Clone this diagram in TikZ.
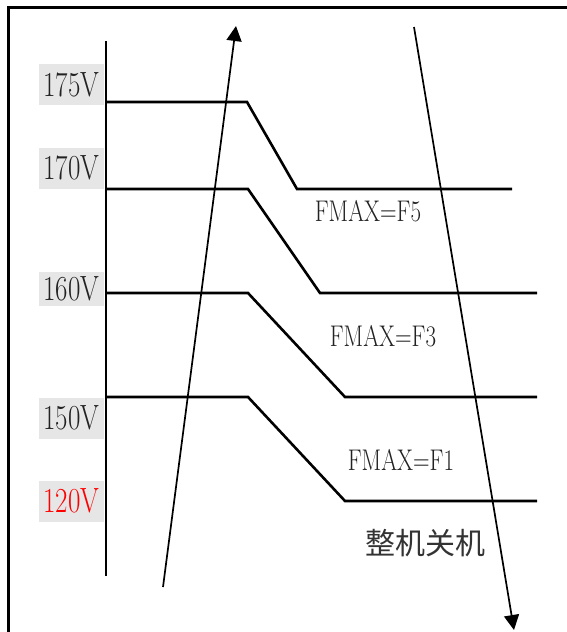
\documentclass[tikz,border=0pt]{standalone}
\usepackage{fontspec}
\newfontfamily\cjkfont{Noto Sans CJK SC}
\usetikzlibrary{arrows.meta}
\definecolor{lblgray}{RGB}{230,230,230}
\definecolor{txtgray}{RGB}{34,34,34}
\newcommand{\tallfont}[1]{\scalebox{1}[1.3]{#1}}

\begin{document}
\begin{tikzpicture}[x=1pt,y=-1pt,
    level/.style={line width=2.6pt},
    flow/.style={line width=1.7pt,-{Triangle[length=15pt,width=15pt]}},
    volt/.style={fill=lblgray,text=txtgray,inner sep=0pt,minimum width=65pt,minimum height=41pt,font=\fontsize{27}{27}\selectfont},
    fmax/.style={inner sep=0pt,text=txtgray,font=\fontsize{23}{23}\selectfont}]
    \useasboundingbox (0,0) rectangle (567,632);

    % frame and voltage axis
    \draw[line width=3pt] (8,632) -- (8,7) -- (567,7);
    \coordinate (axtop) at (106,41);
    \coordinate (axbot) at (106,576);
    \draw[level] (axtop) -- (axbot);

    % voltage labels
    \node[volt] (v175) at (71.5,84.5) {\tallfont{175V}};
    \node[volt] (v170) at (71.5,168) {\tallfont{170V}};
    \node[volt,minimum height=34pt] (v160) at (71.5,288.5) {\tallfont{160V}};
    \node[volt] (v150) at (71.5,418) {\tallfont{150V}};
    \node[volt,text=red] (v120) at (71.5,501) {\tallfont{120V}};

    % switching levels
    \draw[level] (106,102) -- (247,102) -- (297,189) -- (512,189);
    \draw[level] (106,189) -- (248,189) -- (320,293) -- (537,293);
    \draw[level] (106,293) -- (248,293) -- (345,397) -- (537,397);
    \draw[level] (106,397) -- (248,397) -- (345,501) -- (537,501);

    \node[fmax] (f5) at (368,211) {\tallfont{FMAX=F5}};
    \node[fmax] (f3) at (383,336) {\tallfont{FMAX=F3}};
    \node[fmax] (f1) at (401,460) {\tallfont{FMAX=F1}};
    \node[inner sep=0pt,text=black!80,font=\cjkfont\fontsize{30}{30}\selectfont] (off) at (425,543) {整机关机};

    % rising and falling voltage
    \coordinate (up0) at (163,587);
    \coordinate (up1) at (236,26);
    \coordinate (dn0) at (414,27);
    \coordinate (dn1) at (514,630);
    \draw[flow] (up0) -- (up1);
    \draw[flow] (dn0) -- (dn1);
\end{tikzpicture}
\end{document}
